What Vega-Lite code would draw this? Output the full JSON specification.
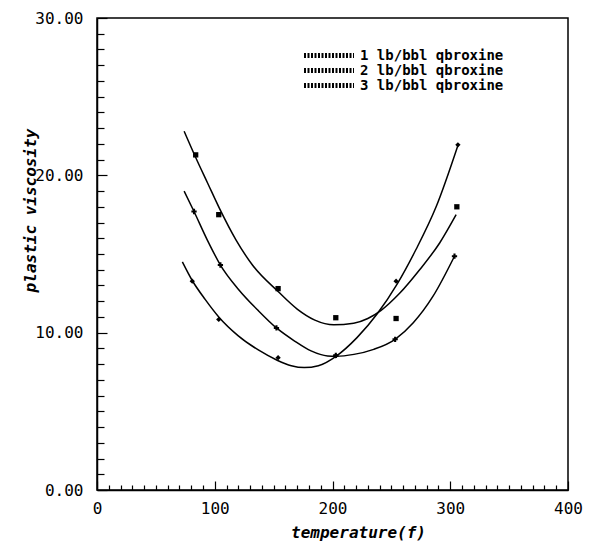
{
  "$schema": "https://vega.github.io/schema/vega-lite/v6.json",
  "width": 471,
  "height": 472,
  "autosize": "none",
  "padding": {"left": 97, "top": 18, "right": 25, "bottom": 57},
  "background": "white",
  "config": {
    "view": {"stroke": "black", "strokeWidth": 1.5},
    "font": "DejaVu Sans Mono",
    "axis": {
      "grid": false,
      "domainColor": "black",
      "domainWidth": 1.5,
      "tickColor": "black",
      "tickWidth": 1.2,
      "labelColor": "black",
      "titleColor": "black",
      "labelFont": "DejaVu Sans Mono",
      "labelFontSize": 16,
      "titleFont": "DejaVu Sans Mono",
      "titleFontSize": 16,
      "titleFontStyle": "italic",
      "titleFontWeight": "bold"
    },
    "legend": {
      "orient": "none",
      "legendX": 200,
      "legendY": 30,
      "symbolType": "M0,0H12.5",
      "symbolSize": 64,
      "symbolStrokeWidth": 5,
      "symbolDash": [2, 1.5],
      "symbolStrokeColor": "black",
      "symbolFillColor": "transparent",
      "labelFont": "DejaVu Sans Mono",
      "labelFontSize": 14,
      "labelFontWeight": "bold",
      "labelColor": "black",
      "labelLimit": 0,
      "labelOffset": 49,
      "clipHeight": 15,
      "rowPadding": 0,
      "padding": 0
    }
  },
  "datasets": {
    "curves": [
      {"series": "1 lb/bbl qbroxine", "temperature": 74, "viscosity": 22.8},
      {"series": "1 lb/bbl qbroxine", "temperature": 84, "viscosity": 21.1},
      {"series": "1 lb/bbl qbroxine", "temperature": 94, "viscosity": 19.5},
      {"series": "1 lb/bbl qbroxine", "temperature": 104, "viscosity": 17.9},
      {"series": "1 lb/bbl qbroxine", "temperature": 118, "viscosity": 15.9},
      {"series": "1 lb/bbl qbroxine", "temperature": 132, "viscosity": 14.3},
      {"series": "1 lb/bbl qbroxine", "temperature": 154, "viscosity": 12.6},
      {"series": "1 lb/bbl qbroxine", "temperature": 170, "viscosity": 11.5},
      {"series": "1 lb/bbl qbroxine", "temperature": 185, "viscosity": 10.8},
      {"series": "1 lb/bbl qbroxine", "temperature": 201, "viscosity": 10.5},
      {"series": "1 lb/bbl qbroxine", "temperature": 218, "viscosity": 10.6},
      {"series": "1 lb/bbl qbroxine", "temperature": 230, "viscosity": 10.9},
      {"series": "1 lb/bbl qbroxine", "temperature": 241, "viscosity": 11.4},
      {"series": "1 lb/bbl qbroxine", "temperature": 257, "viscosity": 12.5},
      {"series": "1 lb/bbl qbroxine", "temperature": 274, "viscosity": 14.0},
      {"series": "1 lb/bbl qbroxine", "temperature": 291, "viscosity": 15.7},
      {"series": "1 lb/bbl qbroxine", "temperature": 305, "viscosity": 17.5},
      {"series": "2 lb/bbl qbroxine", "temperature": 74, "viscosity": 19.0},
      {"series": "2 lb/bbl qbroxine", "temperature": 82.4, "viscosity": 17.7},
      {"series": "2 lb/bbl qbroxine", "temperature": 93.6, "viscosity": 15.9},
      {"series": "2 lb/bbl qbroxine", "temperature": 104.8, "viscosity": 14.3},
      {"series": "2 lb/bbl qbroxine", "temperature": 120.2, "viscosity": 12.75},
      {"series": "2 lb/bbl qbroxine", "temperature": 137, "viscosity": 11.4},
      {"series": "2 lb/bbl qbroxine", "temperature": 152.4, "viscosity": 10.3},
      {"series": "2 lb/bbl qbroxine", "temperature": 167.8, "viscosity": 9.47},
      {"series": "2 lb/bbl qbroxine", "temperature": 181.8, "viscosity": 8.84},
      {"series": "2 lb/bbl qbroxine", "temperature": 195.8, "viscosity": 8.52},
      {"series": "2 lb/bbl qbroxine", "temperature": 202.8, "viscosity": 8.5},
      {"series": "2 lb/bbl qbroxine", "temperature": 218.2, "viscosity": 8.62},
      {"series": "2 lb/bbl qbroxine", "temperature": 235, "viscosity": 8.94},
      {"series": "2 lb/bbl qbroxine", "temperature": 253.2, "viscosity": 9.58},
      {"series": "2 lb/bbl qbroxine", "temperature": 268.6, "viscosity": 10.63},
      {"series": "2 lb/bbl qbroxine", "temperature": 285.4, "viscosity": 12.32},
      {"series": "2 lb/bbl qbroxine", "temperature": 303.6, "viscosity": 14.86},
      {"series": "3 lb/bbl qbroxine", "temperature": 72.5, "viscosity": 14.5},
      {"series": "3 lb/bbl qbroxine", "temperature": 81, "viscosity": 13.3},
      {"series": "3 lb/bbl qbroxine", "temperature": 92, "viscosity": 12.1},
      {"series": "3 lb/bbl qbroxine", "temperature": 103.4, "viscosity": 11.0},
      {"series": "3 lb/bbl qbroxine", "temperature": 120, "viscosity": 9.8},
      {"series": "3 lb/bbl qbroxine", "temperature": 137, "viscosity": 8.9},
      {"series": "3 lb/bbl qbroxine", "temperature": 153, "viscosity": 8.25},
      {"series": "3 lb/bbl qbroxine", "temperature": 165, "viscosity": 7.9},
      {"series": "3 lb/bbl qbroxine", "temperature": 176, "viscosity": 7.78},
      {"series": "3 lb/bbl qbroxine", "temperature": 188, "viscosity": 7.9},
      {"series": "3 lb/bbl qbroxine", "temperature": 203, "viscosity": 8.5},
      {"series": "3 lb/bbl qbroxine", "temperature": 221, "viscosity": 9.7},
      {"series": "3 lb/bbl qbroxine", "temperature": 238, "viscosity": 11.2},
      {"series": "3 lb/bbl qbroxine", "temperature": 255, "viscosity": 13.1},
      {"series": "3 lb/bbl qbroxine", "temperature": 271, "viscosity": 15.3},
      {"series": "3 lb/bbl qbroxine", "temperature": 288, "viscosity": 18.0},
      {"series": "3 lb/bbl qbroxine", "temperature": 306.5, "viscosity": 21.9}
    ],
    "points": [
      {"series": "1 lb/bbl qbroxine", "temperature": 83.8, "viscosity": 21.3},
      {"series": "1 lb/bbl qbroxine", "temperature": 103.4, "viscosity": 17.5},
      {"series": "1 lb/bbl qbroxine", "temperature": 153.8, "viscosity": 12.8},
      {"series": "1 lb/bbl qbroxine", "temperature": 202.8, "viscosity": 10.95},
      {"series": "1 lb/bbl qbroxine", "temperature": 254, "viscosity": 10.9},
      {"series": "1 lb/bbl qbroxine", "temperature": 305.6, "viscosity": 18.0},
      {"series": "2 lb/bbl qbroxine", "temperature": 82.4, "viscosity": 17.7},
      {"series": "2 lb/bbl qbroxine", "temperature": 104.8, "viscosity": 14.3},
      {"series": "2 lb/bbl qbroxine", "temperature": 152.4, "viscosity": 10.3},
      {"series": "2 lb/bbl qbroxine", "temperature": 202.8, "viscosity": 8.56},
      {"series": "2 lb/bbl qbroxine", "temperature": 253.2, "viscosity": 9.58},
      {"series": "2 lb/bbl qbroxine", "temperature": 303.6, "viscosity": 14.86},
      {"series": "3 lb/bbl qbroxine", "temperature": 80.9, "viscosity": 13.27},
      {"series": "3 lb/bbl qbroxine", "temperature": 103.4, "viscosity": 10.84},
      {"series": "3 lb/bbl qbroxine", "temperature": 153.8, "viscosity": 8.41},
      {"series": "3 lb/bbl qbroxine", "temperature": 202.8, "viscosity": 8.52},
      {"series": "3 lb/bbl qbroxine", "temperature": 254, "viscosity": 13.27},
      {"series": "3 lb/bbl qbroxine", "temperature": 306.5, "viscosity": 21.94}
    ]
  },
  "layer": [
    {
      "data": {"name": "curves"},
      "mark": {"type": "line", "interpolate": "monotone", "strokeWidth": 1.5},
      "encoding": {
        "x": {
          "field": "temperature",
          "type": "quantitative",
          "scale": {"domain": [0, 400], "nice": false, "zero": false},
          "axis": {
            "title": "temperature(f)",
            "values": [0,10,20,30,40,50,60,70,80,90,100,110,120,130,140,150,160,170,180,190,200,210,220,230,240,250,260,270,280,290,300,310,320,330,340,350,360,370,380,390,400],
            "tickCount": 200,
            "labelExpr": "datum.value % 100 == 0 ? format(datum.value, 'd') : ''",
            "tickSize": {"condition": {"test": "datum.value % 100 == 0", "value": -9}, "value": -5},
            "labelFontSize": 16,
            "labelPadding": 19,
            "labelFlush": false,
            "labelOverlap": false,
            "titleX": 261,
            "titleY": 42,
            "titleAlign": "center",
            "titleBaseline": "middle"
          }
        },
        "y": {
          "field": "viscosity",
          "type": "quantitative",
          "scale": {"domain": [0, 30], "nice": false},
          "axis": {
            "title": "plastic viscosity",
            "values": [0,1,2,3,4,5,6,7,8,9,10,11,12,13,14,15,16,17,18,19,20,21,22,23,24,25,26,27,28,29,30],
            "tickCount": 200,
            "labelExpr": "datum.value % 10 == 0 ? format(datum.value, '.2f') : ''",
            "tickSize": {"condition": {"test": "datum.value % 10 == 0", "value": -10}, "value": -7},
            "labelFontSize": 16,
            "labelPadding": 24,
            "labelFlush": false,
            "labelOverlap": false,
            "titleX": -67,
            "titleY": 192,
            "titleAngle": -90,
            "titleAlign": "center",
            "titleBaseline": "middle"
          }
        },
        "color": {
          "field": "series",
          "type": "nominal",
          "scale": {"range": ["black", "black", "black"]},
          "legend": {"title": null}
        }
      }
    },
    {
      "data": {"name": "points"},
      "mark": {"type": "point", "filled": true, "size": 28, "color": "black", "opacity": 1},
      "encoding": {
        "x": {"field": "temperature", "type": "quantitative"},
        "y": {"field": "viscosity", "type": "quantitative"},
        "shape": {
          "field": "series",
          "type": "nominal",
          "scale": {"range": ["square", "cross", "diamond"]},
          "legend": null
        }
      }
    }
  ]
}
